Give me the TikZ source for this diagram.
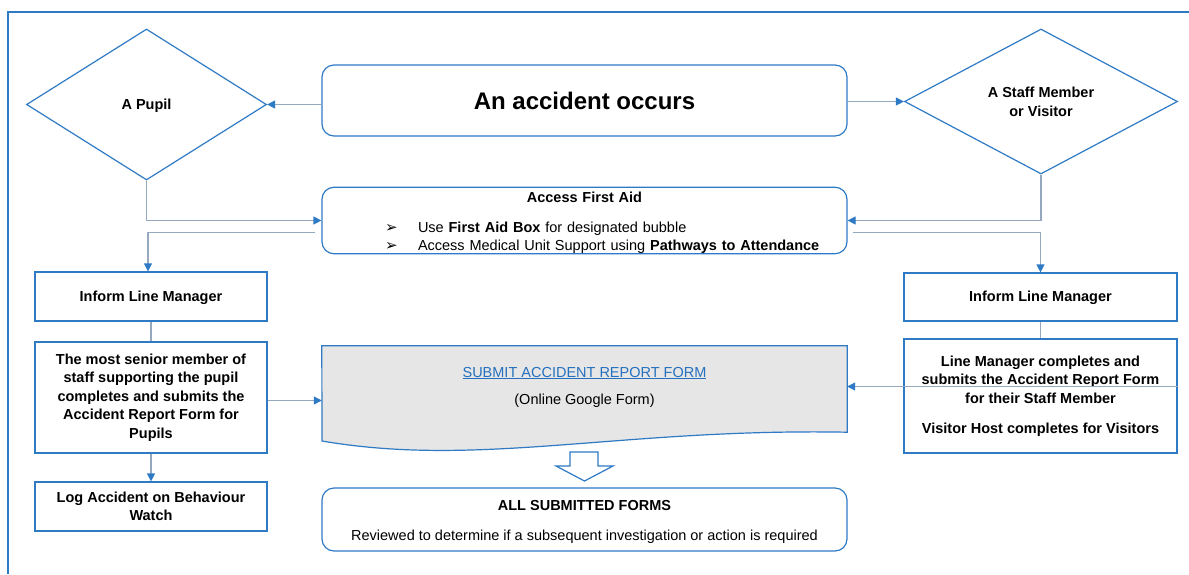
\documentclass[tikz,border=0pt]{standalone}
\usepackage{fontspec}
\setmainfont{Liberation Sans}
\newfontfamily\symf{DejaVu Sans}
\usetikzlibrary{shapes.geometric,arrows.meta}
\definecolor{boxblue}{RGB}{46,122,196}
\definecolor{linegrey}{RGB}{150,168,190}
\definecolor{linkblue}{RGB}{36,112,190}
\definecolor{docgrey}{RGB}{230,230,230}
\newcommand\bulletmark{\makebox[33pt][l]{\symf\fontsize{15}{15}\selectfont ➢}}

\begin{document}
\begin{tikzpicture}[x=1pt, y=-1pt,
    every node/.style={font=\fontsize{14.5}{18.5}\selectfont, align=center, inner sep=0pt,
                       execute at begin node={\rule{0pt}{13pt}}},
    rbox/.style={draw=boxblue, line width=1.2pt, rounded corners=12pt},
    sbox/.style={draw=boxblue, line width=1.2pt, font=\bfseries\fontsize{14.5}{18.5}\selectfont},
    decision/.style={diamond, draw=boxblue, line width=1.2pt, font=\bfseries\fontsize{14.5}{19}\selectfont},
    conn/.style={draw=linegrey, line width=1.2pt, -{Triangle[length=8pt,width=8pt,color=boxblue]}},
    link/.style={draw=linegrey, line width=1.2pt},
  ]
  \useasboundingbox (0,0) rectangle (1189,574);
  \draw[boxblue, line width=1.3pt] (1189,12) -- (8,12) -- (8,574);

  % top row
  \node[rbox, minimum width=525pt, minimum height=71pt,
        font=\bfseries\fontsize{24}{28}\selectfont] (accident) at (584.5,100.5) {An accident occurs};
  \node[decision, minimum width=240pt, minimum height=151pt] (pupil) at (146.5,104.5) {A Pupil};
  \node[decision, minimum width=273pt, minimum height=145pt] (staff) at (1041,101.5) {A Staff Member\\or Visitor};

  % first aid
  \node[rbox, minimum width=525pt, minimum height=65pt, text width=500pt, align=left] (firstaid) at (584.5,220.5)
    {\rule{0pt}{15pt}\makebox[\linewidth]{\bfseries Access First Aid}\\[11.5pt]
     \hspace*{50.5pt}\bulletmark Use \textbf{First Aid Box} for designated bubble\\
     \hspace*{50.5pt}\bulletmark Access Medical Unit Support using \textbf{Pathways to Attendance}};

  % left column (pupils)
  \node[sbox, minimum width=232pt, minimum height=49pt] (inf1) at (151,296.5) {Inform Line Manager};
  \node[sbox, minimum width=232pt, minimum height=111pt] (senior) at (151,397.5)
    {The most senior member of\\staff supporting the pupil\\completes and submits the\\Accident Report Form for\\Pupils};
  \node[sbox, minimum width=232pt, minimum height=49pt] (log) at (151,506.5) {Log Accident on Behaviour\\Watch};

  % right column (staff, visitors)
  \node[sbox, minimum width=273pt, minimum height=48pt] (inf2) at (1040.5,297) {Inform Line Manager};
  \node[sbox, minimum width=273pt, minimum height=114pt] (lmbox) at (1040.5,396)
    {Line Manager completes and\\submits the Accident Report Form\\for their Staff Member\\[11.5pt]Visitor Host completes for Visitors};

  % the form
  \node[minimum width=525pt, minimum height=86pt] (submit) at (584.5,389) {};
  \draw[draw=boxblue, fill=docgrey, line width=1.2pt] (submit.north west) -- (submit.north east) -- (submit.south east)
    .. controls (620,428) and (480,468) .. (322,441) -- cycle;
  \node (submittext) at (584.5,387)
    {\textcolor{linkblue}{\underline{SUBMIT ACCIDENT REPORT FORM}}\\[8.5pt](Online Google Form)};

  \node[rbox, minimum width=525pt, minimum height=63pt] (allforms) at (584.5,519.5)
    {\rule{0pt}{15pt}\textbf{ALL SUBMITTED FORMS}\\[11.5pt]Reviewed to determine if a subsequent investigation or action is required};
  \draw[boxblue, line width=1.2pt, fill=white] (570,452) -- (598,452) -- (598,466) -- (613,466)
    -- (584.5,481) -- (556,466) -- (570,466) -- cycle;

  % connectors
  \draw[conn] (accident.west |- pupil.east) -- (pupil.east);
  \draw[conn] (accident.east |- staff.west) -- (staff.west);
  \draw[conn] (pupil.south) |- (firstaid.west);
  \draw[conn] (staff.south) |- (firstaid.east);
  \coordinate (fl) at ([xshift=-6pt,yshift=-12pt]firstaid.west);
  \draw[conn] (fl) -| ([xshift=-3pt]inf1.north);
  \coordinate (fr) at ([xshift=5pt,yshift=-12pt]firstaid.east);
  \draw[conn] (fr) -| (inf2.north);
  \draw[link] (inf1.south) -- (senior.north);
  \draw[conn] (senior.south) -- (log.north);
  \draw[link] (inf2.south) -- (lmbox.north);
  \coordinate (sl) at ([yshift=-3pt]senior.east);
  \draw[conn] (sl) -- (sl -| submit.west);
  \coordinate (lr) at ([yshift=9.5pt]lmbox.east);
  \draw[conn] (lr) -- (lr -| submit.east);
\end{tikzpicture}
\end{document}
